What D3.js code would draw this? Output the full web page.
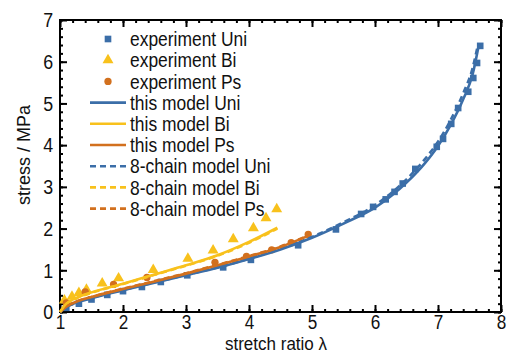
<!DOCTYPE html>
<html>
<head>
<meta charset="utf-8">
<script src="https://cdn.jsdelivr.net/npm/d3@7"></script>
<style>
  html, body { margin: 0; padding: 0; background: #fff; }
  svg { display: block; font-family: "Liberation Sans", Arial, sans-serif; }
</style>
</head>
<body>
<svg id="chart" width="507" height="354"></svg>
<script>
// ---- data: stretch ratio λ vs. nominal stress (MPa) ----
const expUni = [
  [1.10,0.10],[1.30,0.20],[1.50,0.30],[1.75,0.41],[2.00,0.50],[2.30,0.60],[2.60,0.72],
  [3.02,0.88],[3.59,1.07],[4.03,1.25],[4.78,1.60],[5.38,1.98],[5.78,2.35],[5.97,2.52],
  [6.17,2.70],[6.31,2.88],[6.44,3.08],[6.64,3.43],[6.98,3.96],[7.08,4.15],[7.21,4.51],
  [7.32,4.89],[7.48,5.28],[7.56,5.61],[7.62,5.97],[7.67,6.38]
];
const expBi = [
  [1.07,0.28],[1.19,0.37],[1.30,0.46],[1.42,0.54],[1.67,0.69],[1.93,0.81],[2.48,1.01],
  [3.03,1.28],[3.43,1.48],[3.75,1.75],[4.07,2.01],[4.27,2.25],[4.44,2.47]
];
const expPs = [
  [1.10,0.22],[1.40,0.48],[1.85,0.66],[2.38,0.83],[3.46,1.19],[3.96,1.33],
  [4.36,1.49],[4.67,1.66],[4.94,1.86]
];
const modelUni = [
  [1,0],[1.1,0.12],[1.25,0.22],[1.5,0.33],[2,0.52],[2.5,0.70],[3,0.88],[3.5,1.06],
  [4,1.27],[4.5,1.50],[5,1.78],[5.5,2.12],[6,2.50],[6.5,3.10],[6.8,3.58],[7,3.98],
  [7.2,4.48],[7.4,5.10],[7.55,5.70],[7.65,6.42]
];
const modelBi = [
  [1,0],[1.1,0.20],[1.25,0.33],[1.5,0.47],[2,0.68],[2.5,0.90],[3,1.12],[3.5,1.36],
  [4,1.68],[4.45,2.02]
];
const modelPs = [
  [1,0],[1.1,0.13],[1.25,0.24],[1.5,0.36],[2,0.55],[2.5,0.73],[3,0.92],[3.5,1.12],
  [4,1.33],[4.5,1.56],[4.95,1.83]
];
const chainUni = [
  [1,0],[1.1,0.12],[1.25,0.22],[1.5,0.34],[2,0.53],[2.5,0.71],[3,0.89],[3.5,1.07],
  [4,1.28],[4.5,1.52],[5,1.80],[5.5,2.15],[6,2.56],[6.5,3.18],[6.8,3.68],[7,4.08],
  [7.2,4.60],[7.4,5.24],[7.55,5.85],[7.63,6.38]
];
const chainBi = [
  [1,0],[1.1,0.19],[1.25,0.32],[1.5,0.46],[2,0.67],[2.5,0.89],[3,1.11],[3.5,1.35],
  [4,1.66],[4.45,2.00]
];
const chainPs = [
  [1,0],[1.1,0.13],[1.25,0.24],[1.5,0.36],[2,0.56],[2.5,0.74],[3,0.93],[3.5,1.13],
  [4,1.34],[4.5,1.57],[4.95,1.84]
];
const xTicks = [1,2,3,4,5,6,7,8];
const yTicks = [0,1,2,3,4,5,6,7];

const BLUE = "#3b6ea8", YELLOW = "#f8c11c", ORANGE = "#d2701e";

const legendItems = [
  {label: "experiment Uni", kind: "square", color: BLUE},
  {label: "experiment Bi", kind: "triangle", color: YELLOW},
  {label: "experiment Ps", kind: "circle", color: ORANGE},
  {label: "this model Uni", kind: "solid", color: BLUE},
  {label: "this model Bi", kind: "solid", color: YELLOW},
  {label: "this model Ps", kind: "solid", color: ORANGE},
  {label: "8-chain model Uni", kind: "dash", color: BLUE},
  {label: "8-chain model Bi", kind: "dash", color: YELLOW},
  {label: "8-chain model Ps", kind: "dash", color: ORANGE}
];

// condensed lettering: glyphs are narrowed horizontally
const SQUEEZE = 0.85;

const svg = d3.select("#chart");
const L = 60, R = 501, T = 20, B = 312;
const x = d3.scaleLinear().domain([1, 8]).range([L, R]);
const y = d3.scaleLinear().domain([0, 7]).range([B, T]);

// ---- axes with inward ticks on all four sides ----
const minorX = d3.range(1, 8.001, 0.2).map(v => +v.toFixed(2));
const minorY = d3.range(0, 7.001, 0.2).map(v => +v.toFixed(2));

function styleAxis(g) {
  g.select(".domain").remove();
  g.selectAll("line").attr("stroke", "#000").attr("stroke-width", 2);
}

const axes = svg.append("g");
// bottom
axes.append("g").attr("transform", `translate(0,${B})`)
  .call(d3.axisBottom(x).tickValues(minorX).tickSize(-3).tickFormat(""))
  .call(styleAxis);
axes.append("g").attr("transform", `translate(0,${B})`)
  .call(d3.axisBottom(x).tickValues(xTicks).tickSize(-7).tickPadding(3).tickFormat(d3.format("d")))
  .call(styleAxis)
  .call(g => g.selectAll("text").attr("font-size", 19.5).attr("fill", "#111")
    .attr("transform", `scale(${SQUEEZE + 0.03},1)`));
// top
axes.append("g").attr("transform", `translate(0,${T})`)
  .call(d3.axisTop(x).tickValues(minorX).tickSize(-3).tickFormat(""))
  .call(styleAxis);
axes.append("g").attr("transform", `translate(0,${T})`)
  .call(d3.axisTop(x).tickValues(xTicks).tickSize(-7).tickFormat(""))
  .call(styleAxis);
// left
axes.append("g").attr("transform", `translate(${L},0)`)
  .call(d3.axisLeft(y).tickValues(minorY).tickSize(-3).tickFormat(""))
  .call(styleAxis);
axes.append("g").attr("transform", `translate(${L},0)`)
  .call(d3.axisLeft(y).tickValues(yTicks).tickSize(-7).tickPadding(8).tickFormat(d3.format("d")))
  .call(styleAxis)
  .call(g => g.selectAll("text").attr("font-size", 21).attr("fill", "#111")
    .attr("transform", `scale(${SQUEEZE},1)`));
// right
axes.append("g").attr("transform", `translate(${R},0)`)
  .call(d3.axisRight(y).tickValues(minorY).tickSize(-3).tickFormat(""))
  .call(styleAxis);
axes.append("g").attr("transform", `translate(${R},0)`)
  .call(d3.axisRight(y).tickValues(yTicks).tickSize(-7).tickFormat(""))
  .call(styleAxis);

// frame
svg.append("rect")
  .attr("x", L).attr("y", T).attr("width", R - L).attr("height", B - T)
  .attr("fill", "none").attr("stroke", "#000").attr("stroke-width", 2);

// axis titles
svg.append("text")
  .attr("transform", `translate(276,350) scale(0.92,1)`)
  .attr("text-anchor", "middle")
  .attr("font-size", 18.5).attr("fill", "#111")
  .text("stretch ratio λ");
svg.append("text")
  .attr("transform", `translate(30,155) rotate(-90)`)
  .attr("text-anchor", "middle")
  .attr("font-size", 18).attr("fill", "#111")
  .text("stress / MPa");

// ---- markers ----
const plot = svg.append("g");
const sym = {
  square: d3.symbol().type(d3.symbolSquare).size(44),
  triangle: d3.symbol().type(d3.symbolTriangle).size(52),
  circle: d3.symbol().type(d3.symbolCircle).size(42)
};
function drawPoints(data, kind, color) {
  plot.append("g").selectAll("path").data(data).join("path")
    .attr("transform", d => `translate(${x(d[0])},${y(d[1])})`)
    .attr("d", sym[kind]())
    .attr("fill", color);
}
drawPoints(expUni, "square", BLUE);
drawPoints(expBi, "triangle", YELLOW);
drawPoints(expPs, "circle", ORANGE);

// ---- model curves ----
const line = d3.line().x(d => x(d[0])).y(d => y(d[1])).curve(d3.curveMonotoneX);
function drawLine(data, color, dashed) {
  plot.append("path").datum(data)
    .attr("d", line)
    .attr("fill", "none")
    .attr("stroke", color)
    .attr("stroke-width", 2.6)
    .attr("stroke-dasharray", dashed ? "6,4" : null);
}
drawLine(chainUni, BLUE, true);
drawLine(chainPs, ORANGE, true);
drawLine(chainBi, YELLOW, true);
drawLine(modelUni, BLUE, false);
drawLine(modelPs, ORANGE, false);
drawLine(modelBi, YELLOW, false);

// ---- legend ----
const leg = svg.append("g");
const rowY = i => 39 + i * 21.2;
legendItems.forEach((it, i) => {
  const g = leg.append("g").attr("transform", `translate(0,${rowY(i)})`);
  if (it.kind === "solid" || it.kind === "dash") {
    g.append("line").attr("x1", 90).attr("x2", 126).attr("y1", 0).attr("y2", 0)
      .attr("stroke", it.color).attr("stroke-width", 2.6)
      .attr("stroke-dasharray", it.kind === "dash" ? "6,4" : null);
  } else {
    g.append("path").attr("transform", "translate(108,0)")
      .attr("d", sym[it.kind]()).attr("fill", it.color);
  }
  g.append("text")
    .attr("transform", `translate(130,0) scale(${SQUEEZE},1)`)
    .attr("dy", "0.35em")
    .attr("font-size", 20.5).attr("fill", "#111").text(it.label);
});
</script>
</body>
</html>
